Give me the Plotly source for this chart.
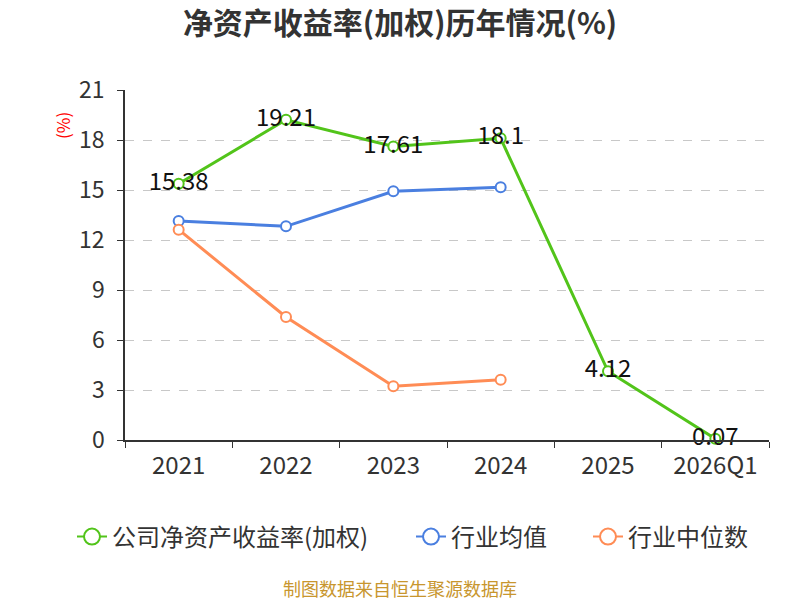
import plotly.graph_objects as go

categories = ["2021", "2022", "2023", "2024", "2025", "2026Q1"]
company_roe = [15.38, 19.21, 17.61, 18.1, 4.12, 0.07]
industry_avg = [13.14, 12.82, 14.92, 15.16, None, None]
industry_median = [12.62, 7.38, 3.22, 3.62, None, None]
y_ticks = [0, 3, 6, 9, 12, 15, 18, 21]

series_names = ["公司净资产收益率(加权)", "行业均值", "行业中位数"]
series_colors = ["#52C41A", "#4A7FE0", "#FF8C55"]

FONT = "Noto Sans CJK SC"
W, H = 800, 600
ML, MR, MT, MB = 125, 31, 90, 160
plot_w = W - ML - MR
plot_h = H - MT - MB


def px_x(x):
    return (x - ML) / plot_w


def px_y(y):
    return (H - MB - y) / plot_h


fig = go.Figure()

fig.add_trace(go.Scatter(
    x=categories, y=industry_avg, name=series_names[1], showlegend=False,
    mode="lines+markers",
    line=dict(color=series_colors[1], width=3),
    marker=dict(symbol="circle", size=10, color="white", line=dict(color=series_colors[1], width=2)),
))
fig.add_trace(go.Scatter(
    x=categories, y=industry_median, name=series_names[2], showlegend=False,
    mode="lines+markers",
    line=dict(color=series_colors[2], width=3),
    marker=dict(symbol="circle", size=10, color="white", line=dict(color=series_colors[2], width=2)),
))
fig.add_trace(go.Scatter(
    x=categories, y=company_roe, name=series_names[0], showlegend=False,
    mode="lines+markers+text",
    text=[str(v) for v in company_roe], textposition="middle center",
    textfont=dict(size=24, color="#111111", family=FONT),
    line=dict(color=series_colors[0], width=3),
    marker=dict(symbol="circle", size=10, color="white", line=dict(color=series_colors[0], width=2)),
    cliponaxis=False,
))

# legend entries (one legend per series so each can be placed like the reference)
legend_ids = ["legend", "legend2", "legend3"]
legend_left_px = [72, 411, 588]
for name, color, lid in zip(series_names, series_colors, legend_ids):
    fig.add_trace(go.Scatter(
        x=[None], y=[None], name=name, legend=lid, showlegend=True,
        mode="lines+markers",
        line=dict(color=color, width=2),
        marker=dict(symbol="circle", size=16, color="white", line=dict(color=color, width=2)),
    ))

legend_common = dict(orientation="h", yanchor="middle", y=px_y(537), xanchor="left",
                     font=dict(size=24, color="#333333", family=FONT),
                     bgcolor="rgba(0,0,0,0)")

fig.update_layout(
    width=W, height=H,
    paper_bgcolor="white", plot_bgcolor="white",
    font=dict(family=FONT, color="#333333"),
    title=dict(text="<b>净资产收益率(加权)历年情况(%)</b>", x=0.5, xanchor="center",
               y=1 - 23 / H, yanchor="middle", font=dict(size=30, color="#333333", family=FONT)),
    margin=dict(l=ML, r=MR, t=MT, b=MB),
    showlegend=True,
    legend=dict(legend_common, x=px_x(legend_left_px[0])),
    legend2=dict(legend_common, x=px_x(legend_left_px[1])),
    legend3=dict(legend_common, x=px_x(legend_left_px[2])),
    xaxis=dict(
        type="category", categoryorder="array", categoryarray=categories,
        range=[-0.5, len(categories) - 0.5], autorange=False,
        showline=True, linecolor="#333333", linewidth=1.5,
        ticks="outside", tickson="boundaries", ticklen=6, tickcolor="#333333",
        tickfont=dict(size=24, color="#333333"), showgrid=False,
        ticklabelstandoff=3,
    ),
    yaxis=dict(
        range=[0, 21], autorange=False, tickvals=y_ticks, ticktext=[str(t) for t in y_ticks],
        showline=True, linecolor="#333333", linewidth=1.5,
        ticks="outside", ticklen=6, tickcolor="#333333",
        tickfont=dict(size=23, color="#333333"),
        showgrid=True, gridcolor="#C8C8C8", griddash="dash", gridwidth=1.2,
        zeroline=False, ticklabelstandoff=8,
    ),
    annotations=[
        dict(text="(%)", x=px_x(62), y=px_y(126), xref="paper", yref="paper", showarrow=False,
             textangle=-90, xanchor="center", yanchor="middle",
             font=dict(size=17, color="#FF0000", family=FONT)),
        dict(text="制图数据来自恒生聚源数据库", x=px_x(400), y=px_y(588), xref="paper", yref="paper",
             showarrow=False, xanchor="center", yanchor="middle",
             font=dict(size=18, color="#C8962E", family=FONT)),
    ],
)

fig.write_html("out.html", config={"displayModeBar": False},
               post_script="document.body.style.margin='0px';")
